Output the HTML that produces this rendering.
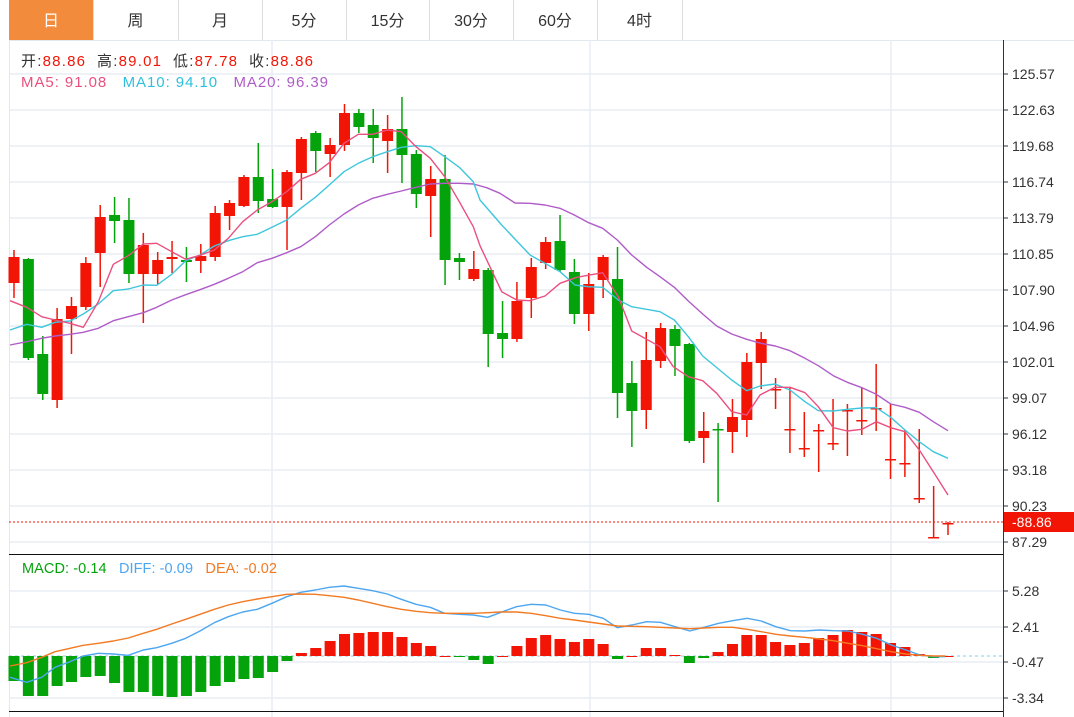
<!DOCTYPE html>
<html><head><meta charset="utf-8"><style>
html,body{margin:0;padding:0;background:#fff;width:1074px;height:717px;overflow:hidden;font-family:"Liberation Sans","Noto Sans CJK SC",sans-serif}
</style></head><body>
<svg id="s" width="1074" height="717" xmlns="http://www.w3.org/2000/svg" style="position:absolute;left:0;top:0;font-family:'Liberation Sans','Noto Sans CJK SC',sans-serif"></svg>
<script>
const S=document.getElementById('s');let h='';
const R='#f21505',G='#05a30b';
h+='<rect x="9" y="0" width="84" height="40" fill="#f28c3c"/>';
const tabs=['日','周','月','5分','15分','30分','60分','4时'];const tx=[9,93,178,262,346,429,513,597,682];
for(let i=0;i<8;i++){const c=(tx[i]+tx[i+1])/2;if(i>0)h+=`<line x1="${tx[i]}.5" y1="0" x2="${tx[i]}.5" y2="40" stroke="#ddd"/>`;h+=`<text x="${c}" y="26" font-size="16" text-anchor="middle" fill="${i==0?'#fff':'#333'}">${tabs[i]}</text>`;}
h+=`<line x1="682.5" y1="0" x2="682.5" y2="40" stroke="#ddd"/><line x1="9" y1="40.5" x2="1074" y2="40.5" stroke="#e3e8ee"/>`;
const gy=[74,110,146,182,218,254,290,326,362,398,434,470,506,542];const gl=['125.57','122.63','119.68','116.74','113.79','110.85','107.90','104.96','102.01','99.07','96.12','93.18','90.23','87.29'];
gy.forEach((y,i)=>{h+=`<line x1="9" y1="${y}" x2="1003" y2="${y}" stroke="#e8eef4" stroke-width="1.5"/><line x1="1003" y1="${y}" x2="1008" y2="${y}" stroke="#333"/><text x="1012" y="${y+5}" font-size="14" fill="#333">${gl[i]}</text>`});
[272,590,891].forEach(x=>{h+=`<line x1="${x}" y1="40" x2="${x}" y2="717" stroke="#e8eef4" stroke-width="1.5"/>`});
h+='<line x1="9.5" y1="40" x2="9.5" y2="717" stroke="#e3e8ee"/>';
[[591,'5.28'],[627,'2.41'],[662,'-0.47'],[698,'-3.34']].forEach(([y,t])=>{h+=`<line x1="9" y1="${y}" x2="1003" y2="${y}" stroke="#e8eef4" stroke-width="1.5"/><line x1="1003" y1="${y}" x2="1008" y2="${y}" stroke="#333"/><text x="1012" y="${y+5}" font-size="14" fill="#333">${t}</text>`});
h+='<line x1="9" y1="554.5" x2="1003" y2="554.5" stroke="#111"/><line x1="9" y1="711.5" x2="1003" y2="711.5" stroke="#111"/><line x1="1003.5" y1="40" x2="1003.5" y2="717" stroke="#333"/>';
h+='<line x1="9" y1="656" x2="1003" y2="656" stroke="#7fd0ee" stroke-dasharray="3,3"/>';
const C=[[257,283,250,298,1],[259,358,258,360,0],[354,394,336,400,0],[319,400,308,408,1],[306,319,297,354,1],[263,307,257,310,1],[217,253,205,287,1],[215,221,197,243,0],[220,274,198,283,0],[245,274,233,323,1],[260,274,252,285,1],[257,259,241,273,1],[260,262,247,282,0],[256,261,244,273,1],[213,257,206,261,1],[203,216,200,230,1],[177,206,175,207,1],[177,201,143,213,0],[199,207,169,208,0],[172,207,170,250,1],[139,173,137,200,1],[133,151,131,172,0],[145,154,138,177,1],[113,145,104,151,1],[113,127,109,133,0],[125,138,109,163,0],[129,141,115,173,1],[129,155,97,183,0],[154,194,150,208,0],[179,196,166,237,1],[179,260,155,285,0],[258,262,253,280,0],[269,279,251,281,1],[270,334,268,367,0],[333,339,301,358,0],[301,339,282,342,1],[267,298,258,318,1],[242,263,237,269,1],[241,270,215,272,0],[272,314,259,324,0],[284,314,273,331,1],[257,280,255,298,1],[279,393,247,418,0],[383,411,361,447,0],[360,410,332,429,1],[328,361,323,368,1],[329,346,325,376,0],[344,441,343,443,0],[431,438,412,463,1],[429,430,423,502,0],[417,432,399,453,1],[362,420,353,437,1],[339,363,332,389,1],[389,389,378,409,1],[429,429,387,453,1],[448,448,412,457,1],[430,430,424,472,1],[443,443,399,450,1],[410,410,404,456,1],[420,420,388,435,1],[408,408,364,431,1],[459,459,404,479,1],[463,463,430,477,1],[498,498,429,503,1],[537,537,486,538,1],[523,523,522,535,1]];
const X=i=>14+i*(934/65);
C.forEach((c,i)=>{const x=X(i),col=c[4]?R:G;h+=`<line x1="${x}" y1="${c[2]}" x2="${x}" y2="${c[3]}" stroke="${col}" stroke-width="1.5"/>`;const hh=Math.max(c[1]-c[0],1.5);h+=`<rect x="${x-5.5}" y="${c[0]}" width="11" height="${hh}" fill="${col}"/>`;});
function cv(pts,ox,oy,sx,sy){return pts.map(p=>[ox+p[0]/sx,oy+p[1]/sy]);}
function pl(pts,col){return `<polyline fill="none" stroke="${col}" stroke-width="1.4" stroke-linejoin="round" points="${pts.map(p=>p[0].toFixed(1)+','+p[1].toFixed(1)).join(' ')}"/>`}
const ma5a=[[30,632],[80,652],[125,680],[165,690],[210,700],[250,712],[295,635],[340,523],[385,497],[430,462],[470,460],[515,485],[557,508],[600,496],[643,480],[685,445],[728,395],[772,360],[816,335],[860,305],[902,268],[946,250],[988,218],[1032,160],[1075,133],[1118,133],[1162,120],[1204,125],[1248,170],[1291,205],[1334,260],[1378,335],[1420,410]];
const ma5b=[[0,137],[65,275],[110,300],[150,302],[195,288],[240,250],[290,232],[368,218],[415,290],[455,393],[500,418],[540,440],[580,500],[625,530],[668,542],[710,580],[755,635],[800,645],[840,585],[885,562],[930,562],[975,578],[1015,620],[1060,683],[1102,693],[1146,688],[1189,665],[1232,683],[1275,695],[1318,750],[1360,815],[1404,885]];
const ma10a=[[30,720],[80,703],[125,712],[165,697],[210,693],[250,672],[295,642],[340,602],[385,597],[430,585],[470,586],[515,553],[557,512],[600,495],[643,468],[685,452],[728,440],[772,433],[816,412],[860,390],[902,355],[946,322],[988,285],[1032,245],[1075,220],[1118,200],[1162,185],[1204,172],[1248,167],[1291,170],[1334,200],[1378,232],[1420,275]];
const ma10b=[[0,0],[65,75],[150,165],[240,215],[285,255],[325,260],[368,262],[415,300],[455,320],[540,335],[583,360],[625,410],[668,468],[755,540],[800,572],[840,558],[885,552],[930,570],[975,605],[1015,632],[1060,633],[1102,628],[1146,624],[1189,623],[1232,652],[1275,690],[1318,725],[1360,755],[1404,775]];
const ma20a=[[30,765],[80,755],[125,745],[165,738],[210,733],[250,727],[295,715],[340,692],[385,680],[430,668],[470,652],[515,630],[557,614],[600,599],[643,583],[685,565],[728,545],[772,518],[816,505],[860,488],[902,470],[946,440],[988,405],[1032,372],[1075,345],[1118,325],[1162,313],[1204,303],[1248,292],[1291,282],[1334,280],[1378,280],[1420,282],[1460,293],[1500,310]];
const ma20b=[[150,10],[195,15],[240,25],[283,45],[326,68],[368,85],[412,120],[455,165],[500,202],[540,230],[583,262],[625,303],[668,342],[710,378],[755,402],[800,418],[843,430],[886,438],[930,452],[975,475],[1015,497],[1060,527],[1102,547],[1146,563],[1189,583],[1232,612],[1275,622],[1318,637],[1360,665],[1404,692]];
h+=pl(cv(ma20a,0,90,3,3).concat([[515,203]],cv(ma20b,480,200,3,3)),'#b05cc8');
h+=pl(cv(ma10a,0,90,3,3).concat(cv(ma10b,480,200,3,3)),'#3ec6dc');
h+=pl(cv(ma5a,0,90,3,3).concat(cv(ma5b,480,200,3,3)),'#ea4f7f');
h+='<line x1="9" y1="522" x2="1003" y2="522" stroke="#f21505" stroke-dasharray="2,2"/><rect x="1004" y="512" width="70" height="20" fill="#f21505"/><text x="1012" y="527" font-size="14" fill="#fff">-88.86</text>';
const M=[681,696,696,686,682,677,676,683,692,692,696,697,696,692,686,682,679,678,672,661,653,648,641,634,633,632,632,637,643,646,656,657,660,664,656,646,638,635,639,642,639,644,659,656,648,648,655,663,658,652,644,635,635,642,645,643,638,635,630,632,634,643,647,654,658,656];
M.forEach((y,i)=>{const x=X(i);const col=y>656?G:R;const t=Math.min(y,656),hh=Math.max(Math.abs(y-656),1);h+=`<rect x="${x-5.5}" y="${t}" width="11" height="${hh}" fill="${col}"/>`;});
const difa=[[30,382],[80,397],[125,382],[165,352],[210,335],[250,318],[295,310],[340,312],[385,316],[430,300],[470,293],[515,280],[557,265],[600,243],[643,218],[685,200],[728,186],[772,178],[816,160],[860,140],[902,127],[946,120],[988,112],[1032,108],[1075,115],[1118,122],[1162,132],[1204,148],[1248,163],[1291,172],[1334,190],[1378,193],[1420,195],[1463,202]];
const difb=[[0,188],[45,170],[85,163],[125,165],[165,180],[203,190],[242,193],[282,205],[320,233],[360,225],[400,215],[438,217],[478,230],[518,243],[557,232],[597,220],[635,212],[675,205],[713,213],[753,230],[793,242],[832,243],[872,240],[910,242],[950,243],[990,253],[1028,265],[1068,285],[1108,300],[1147,315],[1185,320],[1215,320]];
const deaa=[[30,348],[80,338],[125,322],[165,305],[210,295],[250,286],[295,280],[340,273],[385,264],[430,250],[470,238],[515,222],[557,208],[600,193],[643,178],[685,165],[728,155],[772,147],[816,140],[860,133],[902,132],[946,133],[988,137],[1032,142],[1075,150],[1118,160],[1162,170],[1204,178],[1248,184],[1291,188],[1334,190],[1378,190],[1420,190],[1463,188]];
const deab=[[0,186],[45,186],[85,190],[125,197],[165,205],[203,210],[242,216],[282,222],[320,228],[360,229],[400,230],[438,232],[478,234],[518,236],[557,234],[597,232],[635,232],[675,238],[713,245],[753,253],[793,258],[832,262],[872,267],[910,272],[950,280],[990,287],[1028,296],[1068,305],[1108,312],[1147,316],[1185,318],[1215,318]];
h+=pl(cv(difa,0,550,3,3).concat(cv(difb,500,550,2.73,3)),'#4da6f0');
h+=pl(cv(deaa,0,550,3,3).concat(cv(deab,500,550,2.73,3)),'#f27a22');
h+=`<text x="21" y="66" font-size="15" fill="#333" textLength="292" lengthAdjust="spacing" xml:space="preserve">开:<tspan fill="${R}">88.86</tspan>  高:<tspan fill="${R}">89.01</tspan>  低:<tspan fill="${R}">87.78</tspan>  收:<tspan fill="${R}">88.86</tspan></text>`;
h+='<text x="21" y="87" font-size="15" fill="#ea4f7f" textLength="307" lengthAdjust="spacing" xml:space="preserve">MA5: 91.08   <tspan fill="#2fc0dc">MA10: 94.10</tspan>   <tspan fill="#b05cc8">MA20: 96.39</tspan></text>';
h+=`<text x="22" y="573" font-size="14.5" fill="${G}" textLength="255" lengthAdjust="spacing" xml:space="preserve">MACD: -0.14   <tspan fill="#4da6f0">DIFF: -0.09</tspan>   <tspan fill="#f27a22">DEA: -0.02</tspan></text>`;
S.innerHTML=h;
</script>
</body></html>
